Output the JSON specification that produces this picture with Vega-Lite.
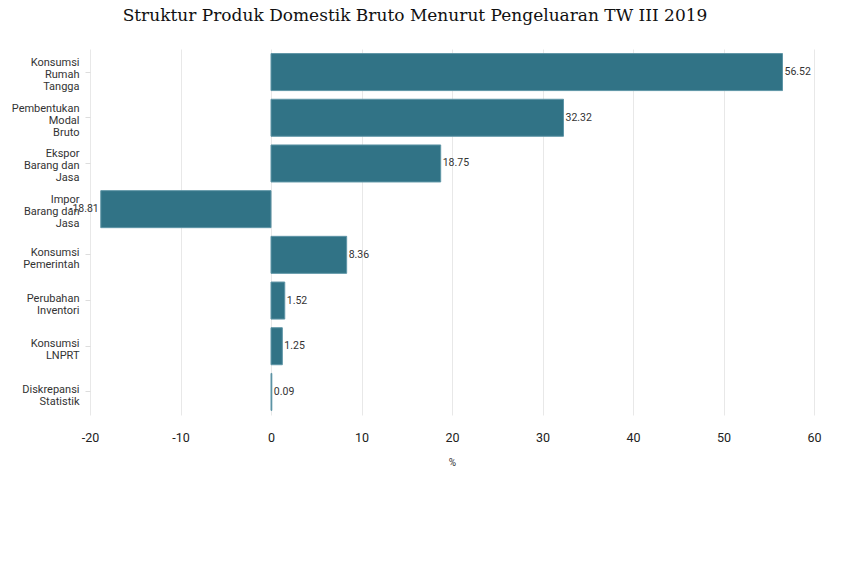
{
  "$schema": "https://vega.github.io/schema/vega-lite/v6.json",
  "width": 724,
  "height": 366,
  "autosize": {"type": "none"},
  "padding": {"left": 90, "top": 49, "right": 36, "bottom": 160},
  "background": "white",
  "title": {
    "text": "Struktur Produk Domestik Bruto Menurut Pengeluaran TW III 2019",
    "font": "DejaVu Serif",
    "fontSize": 17,
    "fontWeight": "normal",
    "color": "#111",
    "anchor": "middle",
    "dx": -37,
    "offset": 24
  },
  "config": {
    "view": {"stroke": null},
    "font": "Roboto"
  },
  "data": {
    "values": [
      {"komponen": "Konsumsi Rumah Tangga", "nilai": 56.52},
      {"komponen": "Pembentukan Modal Bruto", "nilai": 32.32},
      {"komponen": "Ekspor Barang dan Jasa", "nilai": 18.75},
      {"komponen": "Impor Barang dan Jasa", "nilai": -18.81},
      {"komponen": "Konsumsi Pemerintah", "nilai": 8.36},
      {"komponen": "Perubahan Inventori", "nilai": 1.52},
      {"komponen": "Konsumsi LNPRT", "nilai": 1.25},
      {"komponen": "Diskrepansi Statistik", "nilai": 0.09}
    ]
  },
  "encoding": {
    "y": {
      "field": "komponen",
      "type": "nominal",
      "sort": null,
      "scale": {"paddingInner": 0.19, "paddingOuter": 0.1},
      "axis": {
        "title": null,
        "domain": false,
        "ticks": true,
        "tickColor": "#dddddd",
        "tickSize": 5,
        "labelFont": "Roboto",
        "labelFontSize": 11,
        "labelColor": "#333333",
        "labelPadding": 6,
        "labelLineHeight": 12,
        "labelBaseline": "middle",
        "labelOffset": {"condition": {"test": "indexof(['Konsumsi Rumah Tangga','Pembentukan Modal Bruto','Ekspor Barang dan Jasa','Impor Barang dan Jasa'], datum.value) >= 0", "value": -9}, "value": -2},
        "labelExpr": "datum.value == 'Ekspor Barang dan Jasa' ? ['Ekspor','Barang dan','Jasa'] : datum.value == 'Impor Barang dan Jasa' ? ['Impor','Barang dan','Jasa'] : split(datum.value, ' ')"
      }
    },
    "x": {
      "field": "nilai",
      "type": "quantitative",
      "scale": {"domain": [-20, 60], "nice": false},
      "axis": {
        "title": "%",
        "titleFont": "Roboto",
        "titleFontSize": 10,
        "titleFontWeight": "normal",
        "titleColor": "#333333",
        "titlePadding": 14,
        "values": [-20, -10, 0, 10, 20, 30, 40, 50, 60],
        "labelExpr": "toString(datum.value)",
        "labelFlush": false,
        "domain": false,
        "ticks": false,
        "grid": true,
        "gridColor": "#e8e8e8",
        "labelFont": "Roboto",
        "labelFontSize": 12.5,
        "labelColor": "#222222",
        "labelPadding": 16
      }
    }
  },
  "layer": [
    {
      "mark": {"type": "bar", "color": "#317386", "opacity": 1, "stroke": "#5e95a6", "strokeWidth": 1}
    },
    {
      "transform": [{"filter": "datum.nilai >= 0"}],
      "mark": {"type": "text", "align": "left", "baseline": "middle", "dx": 2, "font": "Roboto", "fontSize": 10.5, "color": "#333333"},
      "encoding": {"text": {"field": "nilai", "type": "nominal"}}
    },
    {
      "transform": [{"filter": "datum.nilai < 0"}],
      "mark": {"type": "text", "align": "right", "baseline": "middle", "dx": -2, "font": "Roboto", "fontSize": 10.5, "color": "#333333"},
      "encoding": {"text": {"field": "nilai", "type": "nominal"}}
    }
  ]
}
